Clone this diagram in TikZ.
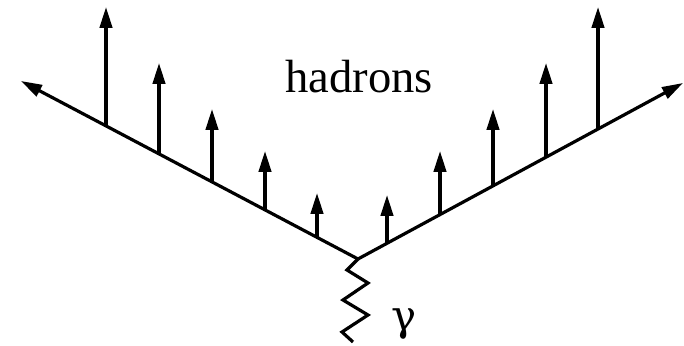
\documentclass[tikz,border=0pt]{standalone}
\usepackage{fontspec}
\setmainfont{Liberation Serif}
\newfontfamily\gfont{DejaVu Serif}
\usetikzlibrary{arrows.meta}
\begin{document}
\begin{tikzpicture}[x=0.5pt,y=-0.5pt,
  jet/.style={line width=1.6pt,-{Triangle[length=10.5pt,width=6.2pt]}},
  lbl/.style={inner sep=0pt,font=\fontsize{23.3}{28}\selectfont}]
\useasboundingbox (0,0) rectangle (684,346);
\coordinate (v) at (358,259);
\coordinate (lt) at (21,81);
\coordinate (rt) at (683,83);
\draw[jet] (v) -- (lt);
\draw[jet] (v) -- (rt);
% left hadron arrows
\foreach \n/\x/\yb/\yt in {l1/106/126/7, l2/159/154/63, l3/212/182/109, l4/265/210/151, l5/317/238/193}{
  \coordinate (\n b) at (\x,\yb);
  \coordinate (\n t) at (\x,\yt);
  \draw[jet] (\n b) -- (\n t);
}
% right hadron arrows
\foreach \n/\x/\yb/\yt in {r1/387/243/195, r2/440/214/151, r3/493/186/109, r4/546/157/63, r5/598/128/7}{
  \coordinate (\n b) at (\x,\yb);
  \coordinate (\n t) at (\x,\yt);
  \draw[jet] (\n b) -- (\n t);
}
% photon zigzag
\coordinate (z0) at (358,259);
\coordinate (z1) at (347,270);
\coordinate (z2) at (368,283);
\coordinate (z3) at (343,300);
\coordinate (z4) at (368,315);
\coordinate (z5) at (342,332);
\coordinate (z6) at (353,342);
\draw[line width=1.6pt,line join=miter] (z0) -- (z1) -- (z2) -- (z3) -- (z4) -- (z5) -- (z6);
\node[lbl,anchor=base] (had) at (359,93) {hadrons};
\node[lbl,anchor=base west,font=\gfont\fontsize{21}{26}\selectfont] (gam) at (391,331) {γ};
\end{tikzpicture}
\end{document}
